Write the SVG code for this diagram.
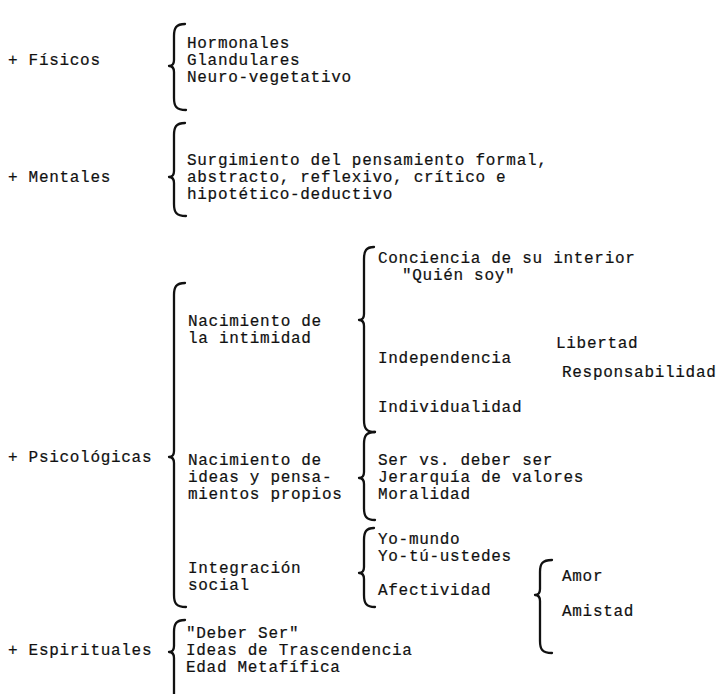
<svg xmlns="http://www.w3.org/2000/svg" width="722" height="694" viewBox="0 0 722 694">
<style>
text{font-family:"Liberation Mono","Courier New",monospace;font-size:16px;letter-spacing:0.7px;fill:#111;stroke:#111;stroke-width:0.2px}
.br{fill:none;stroke:#111;stroke-width:2.3;stroke-linecap:round;stroke-linejoin:round}
</style>
<rect width="722" height="694" fill="#fff"/>
<g id="connectors">
<path class="br" d="M185,24 C176,24 174,28 174,36 L174,60 C174,64 172,66 169,66 C172,66 174,68 174,72 L174,98 C174,106 176,110 186,110"/>
<path class="br" d="M185,123 C176,123 174,127 174,135 L174,171 C174,175 172,177 169,177 C172,177 174,179 174,183 L174,204 C174,212 176,216 186,216"/>
<path class="br" d="M185,283 C176,283 174,287 174,295 L174,451 C174,455 172,457 169,457 C172,457 174,459 174,463 L174,595 C174,603 176,607 186,607"/>
<path class="br" d="M374,247 C366,247 364,251 364,259 L364,314 C364,318 362,320 359,320 C362,320 364,322 364,326 L364,420 C364,428 366,432 375,432"/>
<path class="br" d="M375,432 C366,432 364,436 364,444 L364,472 C364,476 362,478 359,478 C362,478 364,480 364,484 L364,508 C364,516 366,520 375,520"/>
<path class="br" d="M374,528 C366,528 364,532 364,540 L364,567 C364,571 362,573 359,573 C362,573 364,575 364,579 L364,595 C364,603 366,607 375,607"/>
<path class="br" d="M552,560 C542,560 540,564 540,572 L540,589 C540,593 538,595 535,595 C538,595 540,597 540,601 L540,641 C540,649 542,653 552,653"/>
<path class="br" d="M185,620 C176,620 174,624 174,632 L174,646 C174,650 172,652 169,652 C172,652 174,654 174,658 L174,700"/>
</g>
<g id="fisicos">
<text x="8" y="65">+ Físicos</text>
<text x="187" y="48">Hormonales</text>
<text x="187" y="65">Glandulares</text>
<text x="187" y="82">Neuro-vegetativo</text>
</g>
<g id="mentales">
<text x="8" y="182">+ Mentales</text>
<text x="187" y="165">Surgimiento del pensamiento formal,</text>
<text x="187" y="182">abstracto, reflexivo, crítico  e</text>
<text x="187" y="199">hipotético-deductivo</text>
</g>
<g id="psicologicas">
<text x="8" y="462">+ Psicológicas</text>
<text x="188" y="326">Nacimiento de</text>
<text x="188" y="343">la intimidad</text>
<text x="188" y="465">Nacimiento de</text>
<text x="188" y="482">ideas y pensa-</text>
<text x="188" y="499">mientos propios</text>
<text x="188" y="573">Integración</text>
<text x="188" y="590">social</text>
</g>
<g id="intimidad">
<text x="378" y="263">Conciencia de su interior</text>
<text x="402" y="280">"Quién soy"</text>
<text x="556" y="348">Libertad</text>
<text x="378" y="363">Independencia</text>
<text x="562" y="377">Responsabilidad</text>
<text x="378" y="412">Individualidad</text>
</g>
<g id="ideas">
<text x="378" y="465">Ser vs. deber ser</text>
<text x="378" y="482">Jerarquía de valores</text>
<text x="378" y="499">Moralidad</text>
</g>
<g id="social">
<text x="378" y="544">Yo-mundo</text>
<text x="378" y="561">Yo-tú-ustedes</text>
<text x="378" y="595">Afectividad</text>
</g>
<g id="afectividad">
<text x="562" y="581">Amor</text>
<text x="562" y="616">Amistad</text>
</g>
<g id="espirituales">
<text x="8" y="655">+ Espirituales</text>
<text x="186" y="638">"Deber Ser"</text>
<text x="186" y="655">Ideas de Trascendencia</text>
<text x="186" y="672">Edad Metafífica</text>
</g>
</svg>
